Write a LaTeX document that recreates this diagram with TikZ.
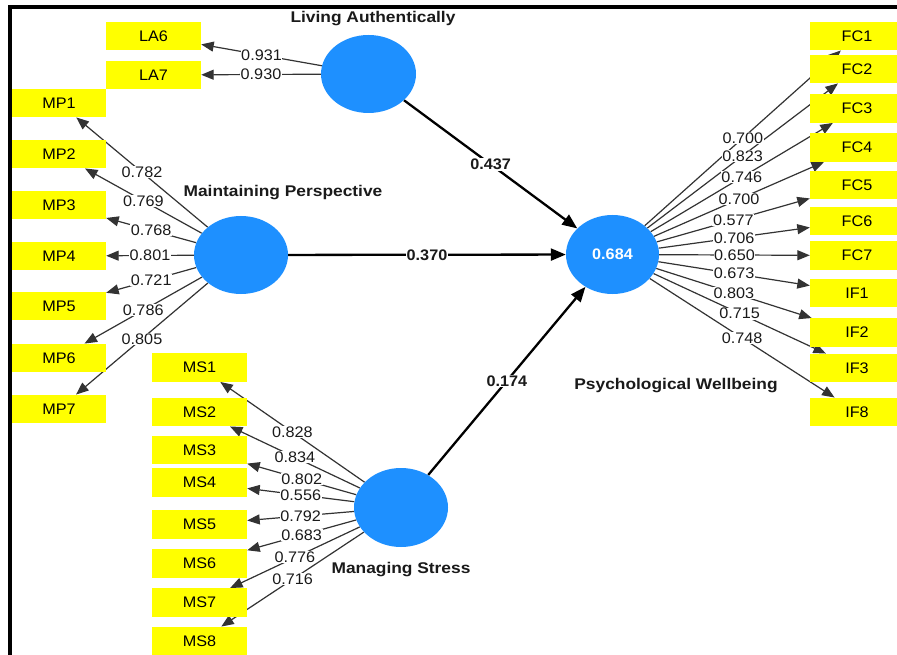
\documentclass[tikz,border=0pt]{standalone}
\usepackage{fontspec}
\setmainfont{Liberation Sans}
\newfontfamily\namefont[FakeStretch=1.12]{Liberation Sans}
\newfontfamily\numfont[FakeStretch=1.06]{Liberation Sans}
\usetikzlibrary{shapes.geometric,arrows.meta}
\definecolor{lvblue}{HTML}{1E90FF}
\definecolor{indyellow}{HTML}{FFFF00}
\definecolor{linegray}{HTML}{333333}
\definecolor{textdark}{HTML}{1A1A1A}
\pgfdeclarelayer{bg}
\pgfdeclarelayer{lines}
\pgfdeclarelayer{labels}
\pgfsetlayers{bg,lines,labels,main}
\begin{document}
\begin{tikzpicture}[x=1pt,y=-1pt,
  ind/.style={fill=indyellow, minimum width=94pt, minimum height=28.5pt, inner sep=0pt,
    font=\numfont\fontsize{15.3}{18}\selectfont, text=black},
  lv/.style={ellipse, fill=lvblue, minimum width=94pt, minimum height=79pt, inner sep=0pt},
  lvname/.style={font=\namefont\bfseries\fontsize{15.5}{18}\selectfont, text=textdark},
  load/.style={draw=linegray, line width=1.2pt, -{Triangle[length=12.5pt,width=10pt]}},
  struct/.style={draw=black, line width=2.3pt, -{Triangle[length=15pt,width=12pt]}},
  lbl/.style={fill=white, inner sep=0.6pt, font=\numfont\fontsize{15.3}{17}\selectfont, text=textdark},
  slbl/.style={fill=white, inner sep=0.8pt, font=\numfont\bfseries\fontsize{15.3}{17}\selectfont, text=textdark}]
\useasboundingbox (0,0) rectangle (897,655);
\begin{pgfonlayer}{bg}
  \fill[white] (0,0) rectangle (897,655);
\end{pgfonlayer}
\clip (0,0) rectangle (897,655);

% frame (left and top edges)
\draw[line width=3.5pt, black] (10,655) -- (10,6.8) -- (897,6.8);

% latent variables
\node[lv, minimum width=95pt, minimum height=78pt] (LA) at (368.5,74) {};
\node[lv, minimum height=78pt] (MP) at (241,255) {};
\node[lv, minimum width=93pt] (PW) at (612.5,254.5)
  {\textcolor{white}{\numfont\bfseries\fontsize{15.3}{18}\selectfont 0.684}};
\node[lv] (MS) at (401,507.5) {};

\node[lvname] at (373,18.5) {Living Authentically};
\node[lvname] at (283,193) {Maintaining Perspective};
\node[lvname] at (401,570) {Managing Stress};
\node[lvname] at (676,386) {Psychological Wellbeing};

% indicators
\node[ind, minimum width=95pt] (LA6) at (153.5,36) {LA6};
\node[ind, minimum width=95pt] (LA7) at (153.5,75) {LA7};
\foreach \i/\y in {1/103,2/154,3/205,4/256,5/306,6/358,7/409}
  \node[ind] (MP\i) at (59,\y) {MP\i};
\foreach \i/\y in {1/367.5,2/412,3/450,4/482.5,5/524.5,6/563.5,7/602.5,8/641}
  \node[ind, minimum width=95pt] (MS\i) at (199.5,\y) {MS\i};
\foreach \i/\y in {1/36,2/69,3/108.5,4/147.5,5/185,6/221,7/255.5}
  \node[ind] (FC\i) at (857,\y) {FC\i};
\foreach \i/\y in {1/293,2/332.5,3/368,8/412}
  \node[ind] (IF\i) at (857,\y) {IF\i};

% outer loadings
\foreach \s/\t/\v in {LA/LA6/0.931, LA/LA7/0.930,
    MP/MP1/0.782, MP/MP2/0.769, MP/MP3/0.768, MP/MP4/0.801, MP/MP5/0.721, MP/MP6/0.786, MP/MP7/0.805,
    MS/MS1/0.828, MS/MS2/0.834, MS/MS3/0.802, MS/MS4/0.556, MS/MS5/0.792, MS/MS6/0.683, MS/MS7/0.776, MS/MS8/0.716,
    PW/FC1/0.700, PW/FC2/0.823, PW/FC3/0.746, PW/FC4/0.700, PW/FC5/0.577, PW/FC6/0.706, PW/FC7/0.650,
    PW/IF1/0.673, PW/IF2/0.803, PW/IF3/0.715, PW/IF8/0.748} {
  \begin{pgfonlayer}{lines}
    \draw[load] (\s) -- coordinate[midway] (m-\t) (\t);
  \end{pgfonlayer}
  \begin{pgfonlayer}{labels}
    \node[lbl] at (m-\t) {\v};
  \end{pgfonlayer}
}

% path coefficients
\foreach \s/\v in {LA/0.437, MP/0.370, MS/0.174} {
  \begin{pgfonlayer}{lines}
    \draw[struct] (\s) -- coordinate[midway] (p-\s) (PW);
  \end{pgfonlayer}
  \begin{pgfonlayer}{labels}
    \node[slbl] at (p-\s) {\v};
  \end{pgfonlayer}
}
\end{tikzpicture}
\end{document}
